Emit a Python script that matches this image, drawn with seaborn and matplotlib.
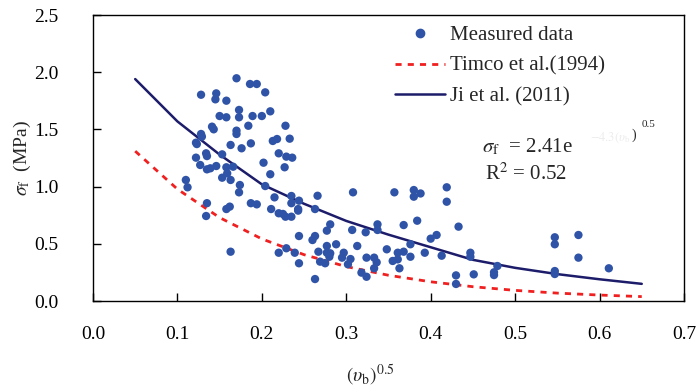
import matplotlib
matplotlib.use("Agg")
import matplotlib.pyplot as plt
import seaborn as sns
import pandas as pd
from matplotlib.lines import Line2D

# measured flexural strength vs sqrt(brine volume)
x_meas = [
    0.170, 0.186, 0.194, 0.204, 0.128, 0.146, 0.145, 0.158, 0.173, 0.210,
    0.150, 0.158, 0.173, 0.189, 0.200, 0.184, 0.228, 0.141, 0.143, 0.170,
    0.170, 0.128, 0.129, 0.122, 0.123, 0.163, 0.187, 0.213, 0.218, 0.233,
    0.176, 0.134, 0.135, 0.153, 0.220, 0.229, 0.236, 0.122, 0.202, 0.127,
    0.146, 0.135, 0.139, 0.158, 0.166, 0.227, 0.210, 0.153, 0.159, 0.163,
    0.110, 0.112, 0.174, 0.204, 0.173, 0.308, 0.266, 0.235, 0.244, 0.215,
    0.235, 0.135, 0.187, 0.194, 0.243, 0.243, 0.263, 0.211, 0.162, 0.158,
    0.134, 0.220, 0.225, 0.228, 0.235, 0.337, 0.281, 0.277, 0.307, 0.323,
    0.337, 0.244, 0.263, 0.260, 0.288, 0.313, 0.277, 0.348, 0.229, 0.163,
    0.220, 0.239, 0.267, 0.277, 0.281, 0.297, 0.280, 0.295, 0.305, 0.324,
    0.333, 0.336, 0.269, 0.275, 0.244, 0.302, 0.333, 0.318, 0.324, 0.263,
    0.357, 0.380, 0.380, 0.388, 0.419, 0.419, 0.368, 0.384, 0.433, 0.400,
    0.407, 0.376, 0.361, 0.368, 0.393, 0.376, 0.361, 0.355, 0.413, 0.447,
    0.447, 0.363, 0.479, 0.475, 0.475, 0.451, 0.430, 0.430, 0.547, 0.547,
    0.575, 0.575, 0.547, 0.547, 0.611,
]
y_meas = [
    1.947, 1.897, 1.897, 1.824, 1.803, 1.815, 1.763, 1.751, 1.670, 1.658,
    1.617, 1.606, 1.606, 1.617, 1.617, 1.532, 1.532, 1.524, 1.501, 1.489,
    1.460, 1.460, 1.437, 1.384, 1.372, 1.364, 1.378, 1.399, 1.416, 1.419,
    1.335, 1.291, 1.267, 1.282, 1.291, 1.262, 1.253, 1.253, 1.209, 1.189,
    1.180, 1.151, 1.160, 1.169, 1.174, 1.169, 1.108, 1.078, 1.116, 1.058,
    1.058, 0.994, 1.014, 1.005, 0.950, 0.950, 0.920, 0.918, 0.877, 0.906,
    0.855, 0.855, 0.855, 0.845, 0.804, 0.790, 0.804, 0.804, 0.825, 0.804,
    0.743, 0.767, 0.761, 0.737, 0.737, 0.670, 0.670, 0.615, 0.621, 0.601,
    0.621, 0.568, 0.568, 0.533, 0.496, 0.481, 0.481, 0.452, 0.461, 0.431,
    0.422, 0.422, 0.431, 0.422, 0.417, 0.422, 0.387, 0.379, 0.367, 0.379,
    0.379, 0.338, 0.344, 0.330, 0.330, 0.321, 0.286, 0.248, 0.212, 0.192,
    0.950, 0.970, 0.912, 0.940, 0.994, 0.868, 0.664, 0.702, 0.650, 0.545,
    0.577, 0.496, 0.422, 0.431, 0.422, 0.387, 0.364, 0.350, 0.396, 0.422,
    0.387, 0.286, 0.306, 0.251, 0.227, 0.233, 0.224, 0.149, 0.557, 0.496,
    0.577, 0.379, 0.262, 0.236, 0.286,
]

# model curves
x_curve = [0.05, 0.10, 0.15, 0.20, 0.25, 0.30, 0.35, 0.40, 0.45, 0.50, 0.55, 0.60, 0.65]
y_timco = [1.31, 0.978, 0.729, 0.543, 0.405, 0.301, 0.225, 0.168, 0.125, 0.093, 0.069, 0.052, 0.0385]
y_ji = [1.94, 1.57, 1.28, 1.02, 0.85, 0.70, 0.58, 0.47, 0.36, 0.29, 0.235, 0.19, 0.15]

df_meas = pd.DataFrame({"x": x_meas, "y": y_meas})
df_curve = pd.DataFrame({"x": x_curve, "timco": y_timco, "ji": y_ji})

sns.set_style("ticks")
plt.rcParams["font.family"] = ["Liberation Serif", "DejaVu Serif"]
plt.rcParams["mathtext.fontset"] = "stix"

PT_BLUE = "#2f53a6"
NAVY = "#1c1c6a"
RED = "#f02020"

fig = plt.figure(figsize=(6.97, 3.89), dpi=100)
ax = fig.add_axes([0.1334, 0.2262, 0.8479, 0.7352])

sns.scatterplot(data=df_meas, x="x", y="y", ax=ax, color=PT_BLUE, s=36,
                edgecolor="none", zorder=3)
sns.lineplot(data=df_curve, x="x", y="timco", ax=ax, color=RED, lw=2.0,
             linestyle=(0, (2.2, 2.2)), sort=False, zorder=2)
sns.lineplot(data=df_curve, x="x", y="ji", ax=ax, color=NAVY, lw=1.8,
             sort=False, zorder=2)

ax.set_xlim(0, 0.7)
ax.set_ylim(0, 2.5)
ax.set_xticks([0.0, 0.1, 0.2, 0.3, 0.4, 0.5, 0.6, 0.7])
ax.set_yticks([0.0, 0.5, 1.0, 1.5, 2.0, 2.5])
ax.xaxis.set_major_formatter(matplotlib.ticker.FormatStrFormatter("%.1f"))
ax.yaxis.set_major_formatter(matplotlib.ticker.FormatStrFormatter("%.1f"))
ax.tick_params(direction="in", length=6, width=1, labelsize=14, colors="black")
ax.tick_params(axis="x", pad=18)
ax.tick_params(axis="y", pad=25)
for sp in ax.spines.values():
    sp.set_visible(True)
    sp.set_linewidth(1.0)
    sp.set_color("black")

ax.set_xlabel(r"$(\upsilon_{\rm b})^{0.5}$", fontsize=14)
ax.xaxis.set_label_coords(0.47, -0.215)
ax.set_ylabel(r"$\sigma_{\rm f}$  (MPa)", fontsize=14)
ax.yaxis.set_label_coords(-0.102, 0.5)

handles = [
    Line2D([], [], marker="o", color=PT_BLUE, linestyle="none", markersize=6),
    Line2D([], [], color=RED, lw=2.0, linestyle=(0, (2.2, 2.2))),
    Line2D([], [], color=NAVY, lw=1.8),
]
labels = ["Measured data", "Timco et al.(1994)", "Ji et al. (2011)"]
ax.legend(handles, labels, frameon=False, fontsize=15, loc="upper left",
          bbox_to_anchor=(0.511, 0.962), handlelength=2.4, handletextpad=0.25,
          labelspacing=0.52, borderaxespad=0, borderpad=0)

ax.text(0.461, 1.30, r"$\sigma_{\rm f}$  = 2.41e", fontsize=15, ha="left", va="baseline")
ax.text(0.589, 1.40, r"$-4.3(\upsilon_{\rm b}$", fontsize=9, color="#ececec",
        ha="left", va="baseline")
ax.text(0.638, 1.42, ")", fontsize=10, ha="left", va="baseline")
ax.text(0.650, 1.52, "0.5", fontsize=8, ha="left", va="baseline")
ax.text(0.464, 1.06, r"R$^2$ = 0.52", fontsize=15, ha="left", va="baseline")

fig.savefig("out.png", dpi=100)
